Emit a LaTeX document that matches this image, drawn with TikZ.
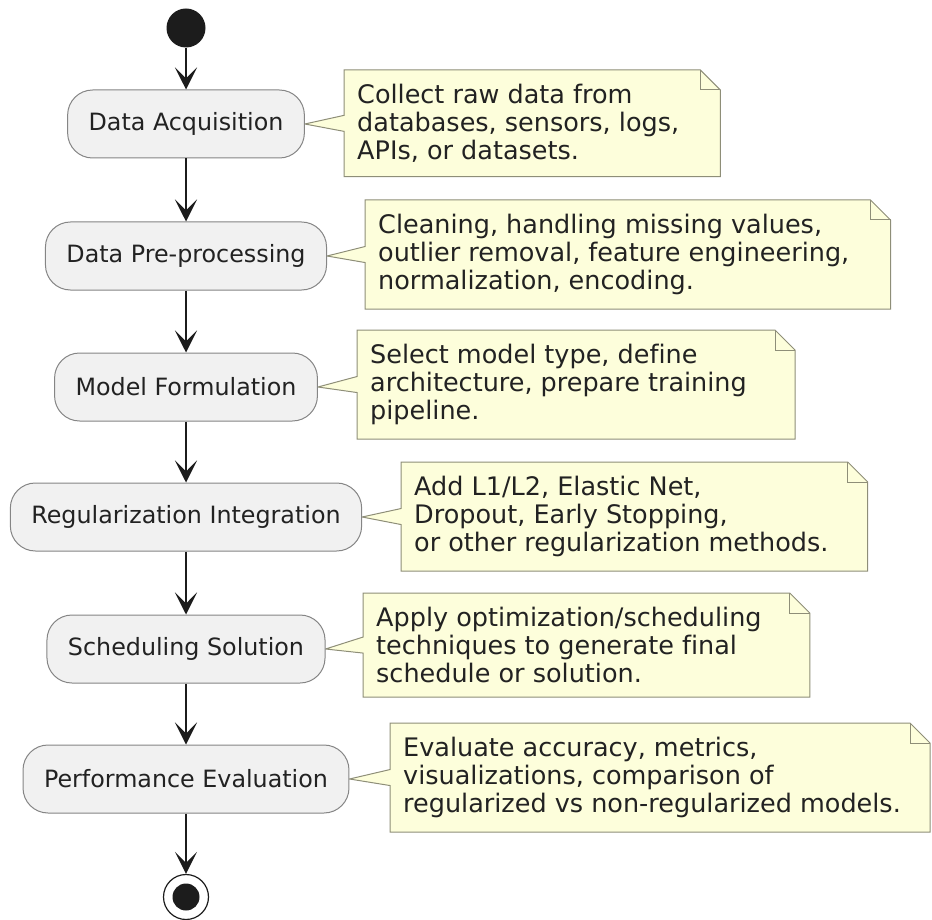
\documentclass[tikz,border=0pt]{standalone}
\usepackage{fontspec}
\setmainfont[Ligatures=NoCommon]{DejaVu Sans}
\usepackage{tikz}
\usetikzlibrary{arrows.meta, calc, backgrounds}
\tikzset{>={Stealth[length=22pt,width=22pt,inset=11pt]}}
\usepackage{xcolor}
\definecolor{actfill}{HTML}{F1F1F1}
\definecolor{actline}{HTML}{858585}
\definecolor{notefill}{HTML}{FDFEDB}
\definecolor{noteline}{HTML}{8E8E78}
\definecolor{flowline}{HTML}{1C1C1C}
\definecolor{inktext}{HTML}{222222}

\begin{document}
\begin{tikzpicture}[x=1pt, y=1pt,
  activity/.style={draw=actline, fill=actfill, rounded corners=25pt, minimum height=68pt,
    inner xsep=21pt, line width=1pt, text=inktext, font=\fontsize{23.8}{28}\selectfont},
  note/.style={anchor=north west, align=left, inner xsep=13pt, inner ysep=14pt,
    text=inktext, font=\fontsize{25.5}{28}\selectfont},
  noteshape/.style={draw=noteline, fill=notefill, line width=1pt},
  flow/.style={->, draw=flowline, line width=1.5pt},
  startdot/.style={circle, fill=flowline, minimum size=39pt, inner sep=0pt},
  enddot/.style={circle, draw=flowline, fill=white, line width=1.2pt, minimum size=45pt, inner sep=0pt,
    path picture={\fill[flowline] (path picture bounding box.center) circle (13.5pt);}}]
\useasboundingbox (0,0) rectangle (932,-920);

% activities
\node[startdot] (start) at (186,-28) {};
\node[activity] (acq) at (186,-124) {Data Acquisition};
\node[activity] (pre) at (186,-256) {Data Pre-processing};
\node[activity] (form) at (186,-387) {Model Formulation};
\node[activity] (reg) at (186,-517) {Regularization Integration};
\node[activity] (sched) at (186,-649) {Scheduling Solution};
\node[activity] (eval) at (186,-779) {Performance Evaluation};
\node[enddot] (stop) at (186,-897) {};

\draw[flow] (start) -- (acq);
\draw[flow] (acq) -- (pre);
\draw[flow] (pre) -- (form);
\draw[flow] (form) -- (reg);
\draw[flow] (reg) -- (sched);
\draw[flow] (sched) -- (eval);
\draw[flow] (eval) -- (stop);

% notes
\node[note] (nacq) at (344,-70) {Collect raw data from\\databases, sensors, logs,\\APIs, or datasets.};
\node[note] (npre) at (365,-200) {Cleaning, handling missing values,\\outlier removal, feature engineering,\\normalization, encoding.};
\node[note] (nform) at (357,-330) {Select model type, define\\architecture, prepare training\\pipeline.};
\node[note] (nreg) at (401,-462) {Add L1/L2, Elastic Net,\\Dropout, Early Stopping,\\or other regularization methods.};
\node[note] (nsched) at (363,-593) {Apply optimization/scheduling\\techniques to generate final\\schedule or solution.};
\node[note] (neval) at (390,-723) {Evaluate accuracy, metrics,\\visualizations, comparison of\\regularized vs non-regularized models.};

\begin{scope}[on background layer]
  \foreach \n/\a/\m in {nacq/acq/28, npre/pre/28, nform/form/35, nreg/reg/26, nsched/sched/35, neval/eval/16}{
    \coordinate (ne) at ([xshift=\m pt]\n.north east);
    \coordinate (se) at ([xshift=\m pt]\n.south east);
    \draw[noteshape] (\n.north west) -- ([xshift=-20pt]ne) -- ([yshift=-20pt]ne) -- (se)
      -- (\n.south west) -- ([yshift=-8pt]\n.west) -- (\a.east) -- ([yshift=8pt]\n.west) -- cycle;
    \draw[noteshape, fill=none] ([xshift=-20pt]ne) |- ([yshift=-20pt]ne);
  }
\end{scope}
\end{tikzpicture}
\end{document}
